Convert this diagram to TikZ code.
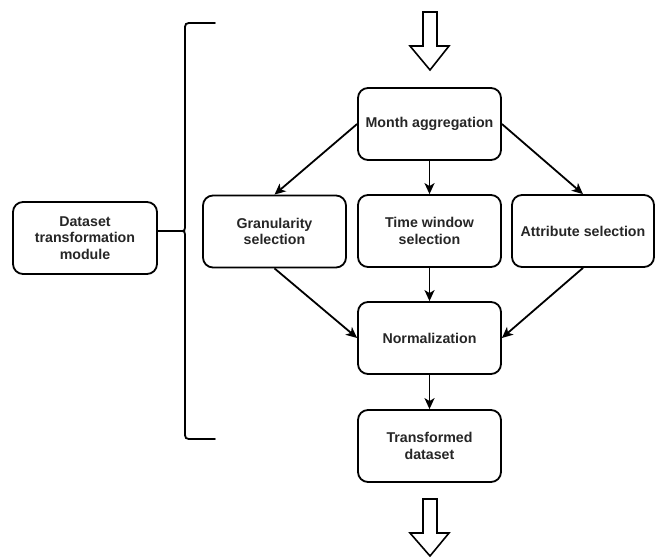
\documentclass[tikz,border=0pt]{standalone}
\usepackage{fontspec}
\setmainfont{Liberation Sans}
\usetikzlibrary{arrows.meta}
\begin{document}
\begin{tikzpicture}[x=1pt,y=-1pt,
  stepbox/.style={draw, line width=1.8pt, rounded corners=10pt, fill=white,
    minimum width=143pt, minimum height=72pt, inner sep=2pt, align=center,
    text=black!85, font=\fontsize{14.2}{16.5}\selectfont\bfseries},
  flow/.style={line width=1.8pt, -{Stealth[length=11pt,width=10pt,inset=3pt]}},
  blockarrow/.style={draw, line width=1.6pt, fill=white, line join=miter}]
  \useasboundingbox (0,0) rectangle (655,557);

  % process boxes
  \node[stepbox] (month) at (429.5,124) {Month aggregation};
  \node[stepbox] (gran)  at (274.5,231.5) {Granularity\\selection};
  \node[stepbox] (time)  at (429.5,231) {Time window\\selection};
  \node[stepbox, minimum width=142pt] (attr) at (583,231) {Attribute selection};
  \node[stepbox] (norm)  at (429.5,338) {Normalization};
  \node[stepbox] (trans) at (429.5,446) {Transformed\\dataset};
  \node[stepbox, minimum width=144pt] (dtm) at (85,238) {Dataset\\transformation\\module};

  % connectors
  \draw[flow] (month.west) -- (gran.north);
  \draw[flow] (month.south) -- (time.north);
  \draw[flow] (month.east) -- (attr.north);
  \draw[flow] (gran.south) -- (norm.west);
  \draw[flow] (time.south) -- (norm.north);
  \draw[flow] (attr.south) -- (norm.east);
  \draw[flow] (norm.south) -- (trans.north);

  % curly brace grouping the module
  \coordinate (tip) at (180,231);
  \draw[line width=1.8pt] (dtm.east |- tip) -- (tip);
  \draw[line width=1.8pt, line cap=round]
    (215,23) -- (193,23) .. controls (185,23) .. (185,31)
    -- (185,224) .. controls (185,231) .. (tip)
    .. controls (185,231) .. (185,238)
    -- (185,431) .. controls (185,439) .. (193,439) -- (215,439);

  % input and output block arrows
  \draw[blockarrow] (423,12) -- (437,12) -- (437,46) -- (449,46) -- (430,70)
    -- (410,46) -- (423,46) -- cycle;
  \draw[blockarrow] (423,499) -- (437,499) -- (437,533) -- (449,533) -- (430,556)
    -- (410,533) -- (423,533) -- cycle;
\end{tikzpicture}
\end{document}
